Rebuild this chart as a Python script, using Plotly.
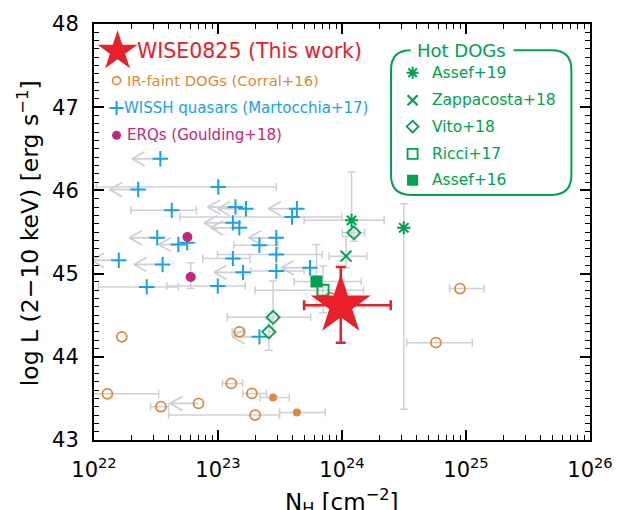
import plotly.graph_objects as go

# ---------------- data (log N_H, log L) ----------------
# WISE0825 (this work)
wise_logN = [23.990]
wise_L = [44.62]
wise_xlo = [23.694]
wise_xhi = [24.393]
wise_ylo = [44.17]
wise_yhi = [45.08]

# WISSH quasars (Martocchia+17)
wissh_logN = [22.535, 22.356, 23.002, 22.627, 23.141, 23.225, 23.636, 23.597, 23.120, 23.172,
              22.510, 22.680, 22.751, 23.470, 23.334, 23.470, 23.120, 22.200, 22.553, 23.202,
              23.470, 23.742, 22.425, 22.998, 23.334]
wissh_L = [46.38, 46.01, 46.04, 45.76, 45.80, 45.78, 45.78, 45.68, 45.61, 45.55,
           45.43, 45.35, 45.37, 45.43, 45.34, 45.23, 45.18, 45.16, 45.11, 45.015,
           45.03, 45.07, 44.84, 44.85, 44.24]
wissh_ul_tip = [22.308, 22.126, None, None, 22.917, 22.996, 23.407, None, 22.891, 22.941,
                22.285, 22.522, None, 23.247, None, None, None, 21.98, 22.324, 22.970,
                None, 23.510, None, None, 23.115]
wissh_xlo = [None, None, 22.021, 22.298, None, None, None, 22.693, None, None,
             None, None, None, None, 23.128, 22.996, 22.877, None, None, None,
             23.265, None, 22.034, 22.587, None]
wissh_xhi = [None, None, 23.470, 22.825, None, None, None, 23.998, None, None,
             None, None, None, None, 23.484, 23.840, 23.259, None, None, None,
             23.694, None, 22.680, 23.220, None]

# IR-faint DOGs (Corral+16), open symbols
corral_logN = [22.224, 23.172, 23.107, 23.273, 22.108, 22.540, 22.843, 23.299, 23.905, 24.951, 24.757]
corral_L = [44.24, 44.30, 43.68, 43.56, 43.555, 43.40, 43.44, 43.30, 44.71, 44.82, 44.17]
corral_xlo = [None, 23.115, 23.036, 23.199, 21.995, 22.456, None, 22.601, None, 24.867, 24.522]
corral_xhi = [None, 23.217, 23.199, 23.391, 22.522, 22.601, None, 23.496, None, 25.144, 25.051]
corral_ul_tip = [None, None, None, None, None, None, 22.614, None, None, None, None]
# Corral+16 filled symbols
corralf_logN = [23.444, 23.636]
corralf_L = [43.51, 43.33]
corralf_xlo = [23.338, 23.496]
corralf_xhi = [23.576, 23.866]

# ERQs (Goulding+18)
erq_logN = [22.753, 22.780]
erq_L = [45.44, 44.96]
erq_ylo = [None, 44.82]
erq_yhi = [None, 45.13]

# Hot DOGs
assef19_logN = [24.077, 24.498]
assef19_L = [45.64, 45.55]
assef19_xlo = [23.694, None]
assef19_xhi = [24.340, None]
assef19_ylo = [45.45, 43.37]
assef19_yhi = [46.22, 45.84]

zappa_logN = [24.032]
zappa_L = [45.21]
zappa_xlo = [23.897]
zappa_xhi = [24.200]
zappa_ylo = [45.07]
zappa_yhi = [45.445]

vito_logN = [24.095, 23.444, 23.410]
vito_L = [45.49, 44.475, 44.30]
vito_xlo = [24.002, 23.075, None]
vito_xhi = [24.182, 23.747, None]
vito_ylo = [45.39, 44.30, 44.08]
vito_yhi = [45.55, 44.91, 44.45]

ricci_logN = [23.847]
ricci_L = [44.80]
ricci_xlo = [23.299]
ricci_xhi = [24.174]
ricci_ylo = [44.53]
ricci_yhi = [45.09]

assef16_logN = [23.794]
assef16_L = [44.905]
assef16_xlo = [23.615]
assef16_xhi = [24.156]
assef16_ylo = [44.60]
assef16_yhi = [45.35]

x_tick_exp = [22, 23, 24, 25, 26]
y_ticks = [43, 44, 45, 46, 47, 48]

# ---------------- styles ----------------
RED = "#e8202a"
ORANGE = "#d98b3b"
BLUE = "#18a2e4"
PURPLE = "#c2267f"
GREEN = "#00a14f"
GRAY = "#cfcfd6"
FONT = "DejaVu Sans"

fig = go.Figure()


def p10(v):
    return 10.0 ** v


def add_xerr(logN, L, xlo, xhi, color=GRAY, thick=1.5, width=4):
    xs, ys, ap, am = [], [], [], []
    for n, l, lo, hi in zip(logN, L, xlo, xhi):
        if lo is None and hi is None:
            continue
        x = p10(n)
        xs.append(x)
        ys.append(l)
        am.append(x - p10(lo) if lo is not None else 0.0)
        ap.append(p10(hi) - x if hi is not None else 0.0)
    if xs:
        fig.add_trace(go.Scatter(x=xs, y=ys, mode="markers",
                                 marker=dict(size=1, color="rgba(0,0,0,0)"),
                                 error_x=dict(type="data", symmetric=False, array=ap, arrayminus=am,
                                              color=color, thickness=thick, width=width),
                                 showlegend=False, hoverinfo="skip"))


def add_yerr(logN, L, ylo, yhi, color=GRAY, thick=1.5, width=4):
    xs, ys, ap, am = [], [], [], []
    for n, l, lo, hi in zip(logN, L, ylo, yhi):
        if lo is None and hi is None:
            continue
        xs.append(p10(n))
        ys.append(l)
        am.append(l - lo if lo is not None else 0.0)
        ap.append(hi - l if hi is not None else 0.0)
    if xs:
        fig.add_trace(go.Scatter(x=xs, y=ys, mode="markers",
                                 marker=dict(size=1, color="rgba(0,0,0,0)"),
                                 error_y=dict(type="data", symmetric=False, array=ap, arrayminus=am,
                                              color=color, thickness=thick, width=width),
                                 showlegend=False, hoverinfo="skip"))


def add_arrows(logN, L, tips):
    xs, ys = [], []
    for n, l, t in zip(logN, L, tips):
        if t is None:
            continue
        xs += [p10(n), p10(t), None, p10(t + 0.1), p10(t), p10(t + 0.1), None]
        ys += [l, l, None, l + 0.085, l, l - 0.085, None]
    fig.add_trace(go.Scatter(x=xs, y=ys, mode="lines", line=dict(color=GRAY, width=1.8),
                             showlegend=False, hoverinfo="skip"))


def add_pts(logN, L, symbol, color, size, lw=2, fill=None):
    fig.add_trace(go.Scatter(x=[p10(n) for n in logN], y=L, mode="markers",
                             marker=dict(symbol=symbol, size=size,
                                         color=fill if fill else color,
                                         line=dict(color=color, width=lw)),
                             showlegend=False, hoverinfo="skip"))


# error bars and upper-limit arrows (below markers)
add_arrows(wissh_logN, wissh_L, wissh_ul_tip)
add_arrows(corral_logN, corral_L, corral_ul_tip)
add_xerr(wissh_logN, wissh_L, wissh_xlo, wissh_xhi)
add_xerr(corral_logN, corral_L, corral_xlo, corral_xhi)
add_xerr(corralf_logN, corralf_L, corralf_xlo, corralf_xhi)
add_yerr(erq_logN, erq_L, erq_ylo, erq_yhi)
for d in [(assef19_logN, assef19_L, assef19_xlo, assef19_xhi, assef19_ylo, assef19_yhi),
          (zappa_logN, zappa_L, zappa_xlo, zappa_xhi, zappa_ylo, zappa_yhi),
          (vito_logN, vito_L, vito_xlo, vito_xhi, vito_ylo, vito_yhi),
          (ricci_logN, ricci_L, ricci_xlo, ricci_xhi, ricci_ylo, ricci_yhi),
          (assef16_logN, assef16_L, assef16_xlo, assef16_xhi, assef16_ylo, assef16_yhi)]:
    add_xerr(d[0], d[1], d[2], d[3])
    add_yerr(d[0], d[1], d[4], d[5])

# markers
add_pts(corral_logN, corral_L, "circle-open", ORANGE, 10, lw=1.8)
add_pts(corralf_logN, corralf_L, "circle", ORANGE, 8, lw=0)
add_pts(wissh_logN, wissh_L, "cross-thin-open", BLUE, 11, lw=2)
add_pts(erq_logN, erq_L, "circle", PURPLE, 10, lw=0)
add_pts(assef19_logN, assef19_L, "asterisk-open", GREEN, 11, lw=2)
add_pts(zappa_logN, zappa_L, "x-thin-open", GREEN, 11, lw=2)
add_pts(vito_logN, vito_L, "diamond-open", GREEN, 10, lw=1.8)
add_pts(ricci_logN, ricci_L, "square-open", GREEN, 11, lw=1.8)
add_pts(assef16_logN, assef16_L, "square", GREEN, 12, lw=0)

# WISE0825
add_xerr(wise_logN, wise_L, wise_xlo, wise_xhi, color=RED, thick=2.5, width=5)
add_yerr(wise_logN, wise_L, wise_ylo, wise_yhi, color=RED, thick=2.5, width=5)
add_pts(wise_logN, wise_L, "star", RED, 45, lw=0)

# ---------------- legend (overlay axes in plot-fraction units) ----------------
X0, W, Y1, H = 94, 506, 440, 426


def fx(p):
    return (p - X0) / W


def fy(p):
    return (Y1 - p) / H


leg_left = [
    ("star", RED, 30, 0, 118, 42, "WISE0825 (This work)", 136, 20.5, RED),
    ("circle-open", ORANGE, 8, 1.6, 117, 72, "IR-faint DOGs (Corral+16)", 126, 14.8, ORANGE),
    ("cross-thin-open", BLUE, 10, 2, 117, 100, "WISSH quasars (Martocchia+17)", 123, 15, BLUE),
    ("circle", PURPLE, 9, 0, 117, 128, "ERQs (Goulding+18)", 126, 15, PURPLE),
]
leg_right = [
    ("asterisk-open", 10, 2, "Assef+19"),
    ("x-thin-open", 10, 2.2, "Zappacosta+18"),
    ("diamond-open", 9, 1.8, "Vito+18"),
    ("square-open", 10, 1.8, "Ricci+17"),
    ("square", 11, 0, "Assef+16"),
]
right_y = [64, 92, 119, 147, 174]

annotations = []
for sym, col, sz, lw, mx, my, txt, tx, fs, tc in leg_left:
    fig.add_trace(go.Scatter(x=[fx(mx)], y=[fy(my)], xaxis="x2", yaxis="y2", mode="markers",
                             marker=dict(symbol=sym, size=sz, color=col, line=dict(color=col, width=lw)),
                             showlegend=False, hoverinfo="skip"))
    annotations.append(dict(x=fx(tx), y=fy(my), xref="paper", yref="paper", text=txt,
                            showarrow=False, xanchor="left", yanchor="middle",
                            font=dict(family=FONT, size=fs, color=tc)))

for (sym, sz, lw, txt), my in zip(leg_right, right_y):
    fig.add_trace(go.Scatter(x=[fx(419)], y=[fy(my)], xaxis="x2", yaxis="y2", mode="markers",
                             marker=dict(symbol=sym, size=sz, color=GREEN, line=dict(color=GREEN, width=lw)),
                             showlegend=False, hoverinfo="skip"))
    annotations.append(dict(x=fx(437), y=fy(my), xref="paper", yref="paper", text=txt,
                            showarrow=False, xanchor="left", yanchor="middle",
                            font=dict(family=FONT, size=15.5, color=GREEN)))

annotations.append(dict(x=fx(469), y=fy(41), xref="paper", yref="paper", text="Hot DOGs",
                        showarrow=False, xanchor="center", yanchor="middle",
                        font=dict(family=FONT, size=18, color=GREEN)))

# axis titles
annotations.append(dict(x=fx(28), y=fy(228), xref="paper", yref="paper",
                        text="log L (2−10 keV) [erg s<sup>−1</sup>]", textangle=-90,
                        showarrow=False, xanchor="center", yanchor="middle",
                        font=dict(family=FONT, size=23.5, color="black")))
annotations.append(dict(x=fx(346), y=fy(484), xref="paper", yref="paper",
                        text="N<sub>H</sub> [cm<sup>−2</sup>]",
                        showarrow=False, xanchor="center", yanchor="top",
                        font=dict(family=FONT, size=23, color="black")))

# rounded box with gap for the title
bl, br, bt, bb, r = 397, 581, 41, 189, 20
pts = [
    ("M", [(522, bt)]), ("L", [(br - r, bt)]), ("Q", [(br, bt), (br, bt + r)]),
    ("L", [(br, bb - r)]), ("Q", [(br, bb), (br - r, bb)]),
    ("L", [(bl + r, bb)]), ("Q", [(bl, bb), (bl, bb - r)]),
    ("L", [(bl, bt + r)]), ("Q", [(bl, bt), (bl + r, bt)]),
    ("L", [(416, bt)]),
]
path = ""
for cmd, coords in pts:
    path += cmd + " " + " ".join(f"{fx(a):.5f},{fy(b):.5f}" for a, b in coords) + " "

shapes = [dict(type="path", path=path.strip(), xref="paper", yref="paper",
               line=dict(color=GREEN, width=2))]

fig.update_layout(
    width=625, height=510,
    margin=dict(l=94, r=25, t=14, b=70),
    paper_bgcolor="white", plot_bgcolor="white",
    showlegend=False,
    font=dict(family=FONT, color="black"),
    xaxis=dict(type="log", range=[22, 26],
               tickvals=[p10(e) for e in x_tick_exp],
               ticktext=[f"10<sup>{e}</sup>" for e in x_tick_exp],
               ticks="inside", ticklen=10, tickwidth=1.5, tickcolor="black",
               minor=dict(ticks="inside", ticklen=5, tickwidth=1.2, tickcolor="black",
                          tickvals=[d * p10(e) for e in range(22, 26) for d in range(2, 10)]),
               showline=True, linecolor="black", linewidth=2, mirror="allticks",
               showgrid=False, zeroline=False, ticklabelstandoff=10,
               tickfont=dict(family=FONT, size=21)),
    yaxis=dict(range=[43, 48], tickvals=y_ticks,
               ticks="inside", ticklen=10, tickwidth=1.5, tickcolor="black",
               minor=dict(ticks="inside", ticklen=5, tickwidth=1.2, tickcolor="black", dtick=0.1),
               showline=True, linecolor="black", linewidth=2, mirror="allticks",
               showgrid=False, zeroline=False, ticklabelstandoff=9,
               tickfont=dict(family=FONT, size=21)),
    xaxis2=dict(overlaying="x", range=[0, 1], visible=False, fixedrange=True, anchor="y2"),
    yaxis2=dict(overlaying="y", range=[0, 1], visible=False, fixedrange=True, anchor="x2"),
    annotations=annotations,
    shapes=shapes,
)

fig.write_html("out.html")
